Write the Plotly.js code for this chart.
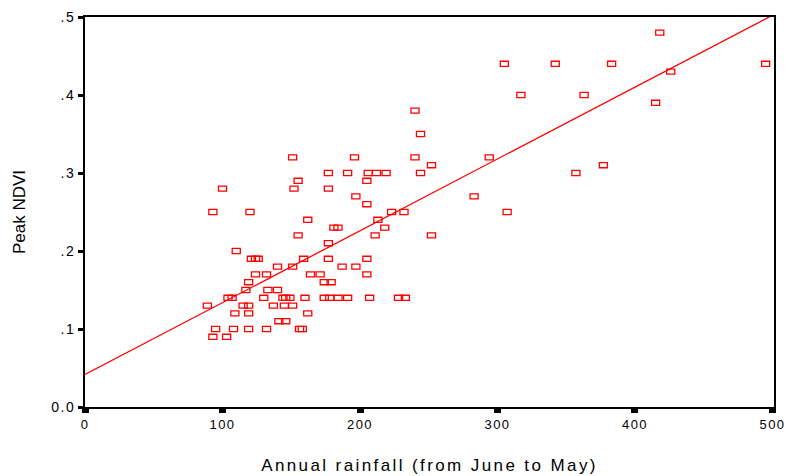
<!DOCTYPE html>
<html>
<head>
<meta charset="utf-8">
<script src="https://cdn.plot.ly/plotly-3.0.1.min.js"></script>
<style>
  html, body { margin: 0; padding: 0; background: #fff; }
  #chart { width: 788px; height: 476px; }
</style>
</head>
<body>
<div id="chart"></div>
<script>
// Annual rainfall (mm, June to May) for each observation
var rainfall = [
  418,
  305, 342, 383, 495,
  426,
  317, 363,
  415,
  240,
  244,
  151, 196, 240, 294,
  252, 377,
  177, 191, 206, 212, 219, 244, 357,
  155, 205,
  100, 152, 177,
  197, 283,
  205,
  93, 120, 223, 232, 307,
  162, 213,
  181, 184, 218,
  155, 211, 252,
  177,
  110,
  121, 124, 126, 159, 177, 205,
  140, 151, 187, 197,
  124, 132, 164, 171, 205,
  119, 174, 179,
  117, 133, 140,
  104, 107, 130, 144, 146, 149, 160, 174, 178, 184, 191, 207, 228, 233,
  89, 115, 119, 137, 145, 151,
  109, 119, 162,
  141, 146,
  95, 108, 119, 132, 156, 158,
  93, 103
];
// Peak NDVI for each observation (same order)
var peakNdvi = [
  0.48,
  0.44, 0.44, 0.44, 0.44,
  0.43,
  0.40, 0.40,
  0.39,
  0.38,
  0.35,
  0.32, 0.32, 0.32, 0.32,
  0.31, 0.31,
  0.30, 0.30, 0.30, 0.30, 0.30, 0.30, 0.30,
  0.29, 0.29,
  0.28, 0.28, 0.28,
  0.27, 0.27,
  0.26,
  0.25, 0.25, 0.25, 0.25, 0.25,
  0.24, 0.24,
  0.23, 0.23, 0.23,
  0.22, 0.22, 0.22,
  0.21,
  0.20,
  0.19, 0.19, 0.19, 0.19, 0.19, 0.19,
  0.18, 0.18, 0.18, 0.18,
  0.17, 0.17, 0.17, 0.17, 0.17,
  0.16, 0.16, 0.16,
  0.15, 0.15, 0.15,
  0.14, 0.14, 0.14, 0.14, 0.14, 0.14, 0.14, 0.14, 0.14, 0.14, 0.14, 0.14, 0.14, 0.14,
  0.13, 0.13, 0.13, 0.13, 0.13, 0.13,
  0.12, 0.12, 0.12,
  0.11, 0.11,
  0.10, 0.10, 0.10, 0.10, 0.10, 0.10,
  0.09, 0.09
];
var xTickVals = [0, 100, 200, 300, 400, 500];
var xTickText = ['0', '100', '200', '300', '400', '500'];
var yTickVals = [0, 0.1, 0.2, 0.3, 0.4, 0.5];
var yTickText = ['0.0', '.1', '.2', '.3', '.4', '.5'];
var fitRange = [0, 505];

// Least-squares linear fit of the points
var n = rainfall.length, sx = 0, sy = 0, sxx = 0, sxy = 0;
for (var i = 0; i < n; i++) {
  sx += rainfall[i]; sy += peakNdvi[i];
  sxx += rainfall[i] * rainfall[i]; sxy += rainfall[i] * peakNdvi[i];
}
var slope = (n * sxy - sx * sy) / (n * sxx - sx * sx);
var intercept = (sy - slope * sx) / n;
var fitY = fitRange.map(function (x) { return intercept + slope * x; });

var FONT = 'Liberation Sans, Arial, Helvetica, sans-serif';

var traces = [
  {
    x: rainfall, y: peakNdvi, type: 'scatter', mode: 'markers',
    marker: { symbol: 'square-open', size: 6, color: '#ff0000', line: { width: 1.3, color: '#ff0000' } },
    hoverinfo: 'x+y'
  },
  {
    x: fitRange, y: fitY, type: 'scatter', mode: 'lines',
    line: { color: '#ff0000', width: 1.3 }, hoverinfo: 'skip'
  }
];

var layout = {
  width: 788, height: 476,
  margin: { l: 85, r: 14, t: 17, b: 69 },
  paper_bgcolor: '#ffffff', plot_bgcolor: '#ffffff',
  showlegend: false,
  font: { family: FONT, color: '#000000', size: 13 },
  xaxis: {
    range: [0, 501.1], tickvals: xTickVals, ticktext: xTickText,
    ticks: 'outside', ticklen: 4, tickwidth: 7, tickcolor: '#000',
    showline: true, linecolor: '#000', linewidth: 2, mirror: true,
    showgrid: false, zeroline: false,
    tickfont: { size: 13, family: FONT, color: '#000' },
    title: { text: 'Annual rainfall (from June to May)', font: { size: 17, family: FONT, color: '#000' }, standoff: 29 }
  },
  yaxis: {
    range: [0, 0.5], tickvals: yTickVals, ticktext: yTickText,
    ticks: 'outside', ticklen: 5, tickwidth: 3, tickcolor: '#000',
    showline: true, linecolor: '#000', linewidth: 2, mirror: true,
    showgrid: false, zeroline: false,
    tickfont: { size: 14, family: FONT, color: '#000' },
    title: { text: 'Peak NDVI', font: { size: 17, family: FONT, color: '#000' }, standoff: 26 }
  }
};

Plotly.newPlot('chart', traces, layout, { displayModeBar: false, staticPlot: true }).then(function () {
  document.querySelectorAll('.xtitle').forEach(function (e) { e.style.letterSpacing = '2.4px'; });
  document.querySelectorAll('.xtick text, .ytick text').forEach(function (e) { e.style.letterSpacing = '1.5px'; });
  document.querySelectorAll('.scatterlayer .point').forEach(function (p) {
    p.setAttribute('transform', p.getAttribute('transform') + ' scale(1.35,0.85)');
    p.style.vectorEffect = 'non-scaling-stroke';
  });
});
</script>
</body>
</html>
